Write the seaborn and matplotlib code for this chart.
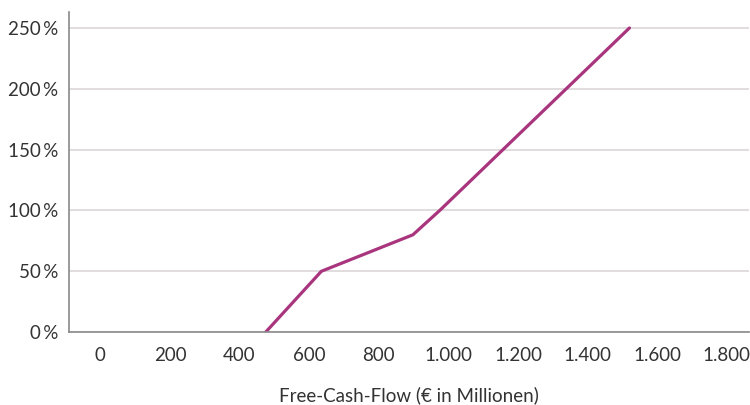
import matplotlib
matplotlib.use("Agg")
import matplotlib.pyplot as plt
import seaborn as sns
import pandas as pd
from matplotlib.ticker import FuncFormatter

# payout curve: free cash flow (EUR m) vs. target achievement (%)
fcf = [475, 635, 898, 975, 1520]
payout = [0, 50, 80, 100, 250]
x_ticks = [0, 200, 400, 600, 800, 1000, 1200, 1400, 1600, 1800]
y_ticks = [0, 50, 100, 150, 200, 250]

df = pd.DataFrame({"fcf": fcf, "payout": payout})

sns.set_style("white")
plt.rcParams["font.family"] = ["Lato", "DejaVu Sans"]

fig = plt.figure(figsize=[7.5, 4.05], dpi=100)
ax = fig.add_axes([0.092, 0.180, 0.906, 0.790])

sns.lineplot(data=df, x="fcf", y="payout", ax=ax, color="#a8357d", linewidth=2.3)

ax.set_xlim(-90, 1862)
ax.set_ylim(0, 263)
ax.set_xticks(x_ticks)
ax.set_yticks(y_ticks)
ax.xaxis.set_major_formatter(FuncFormatter(lambda v, p: f"{int(v):,}".replace(",", ".")))
ax.yaxis.set_major_formatter(FuncFormatter(lambda v, p: f"{int(v)}\u2009%"))

ax.grid(axis="y", color="#dcd6d8", linewidth=1.2)
ax.set_axisbelow(True)
for s in ["top", "right"]:
    ax.spines[s].set_visible(False)
for s in ["left", "bottom"]:
    ax.spines[s].set_color("#8a8a8a")
    ax.spines[s].set_linewidth(1.2)

ax.tick_params(axis="both", length=0, labelsize=13.5, colors="#333333")
ax.tick_params(axis="x", pad=11)
ax.tick_params(axis="y", pad=8)

ax.set_xlabel("Free-Cash-Flow (€ in Millionen)", fontsize=13.5, color="#333333", labelpad=16)
ax.set_ylabel(None)

plt.savefig("out.png", dpi=100, facecolor="white")
plt.close()
